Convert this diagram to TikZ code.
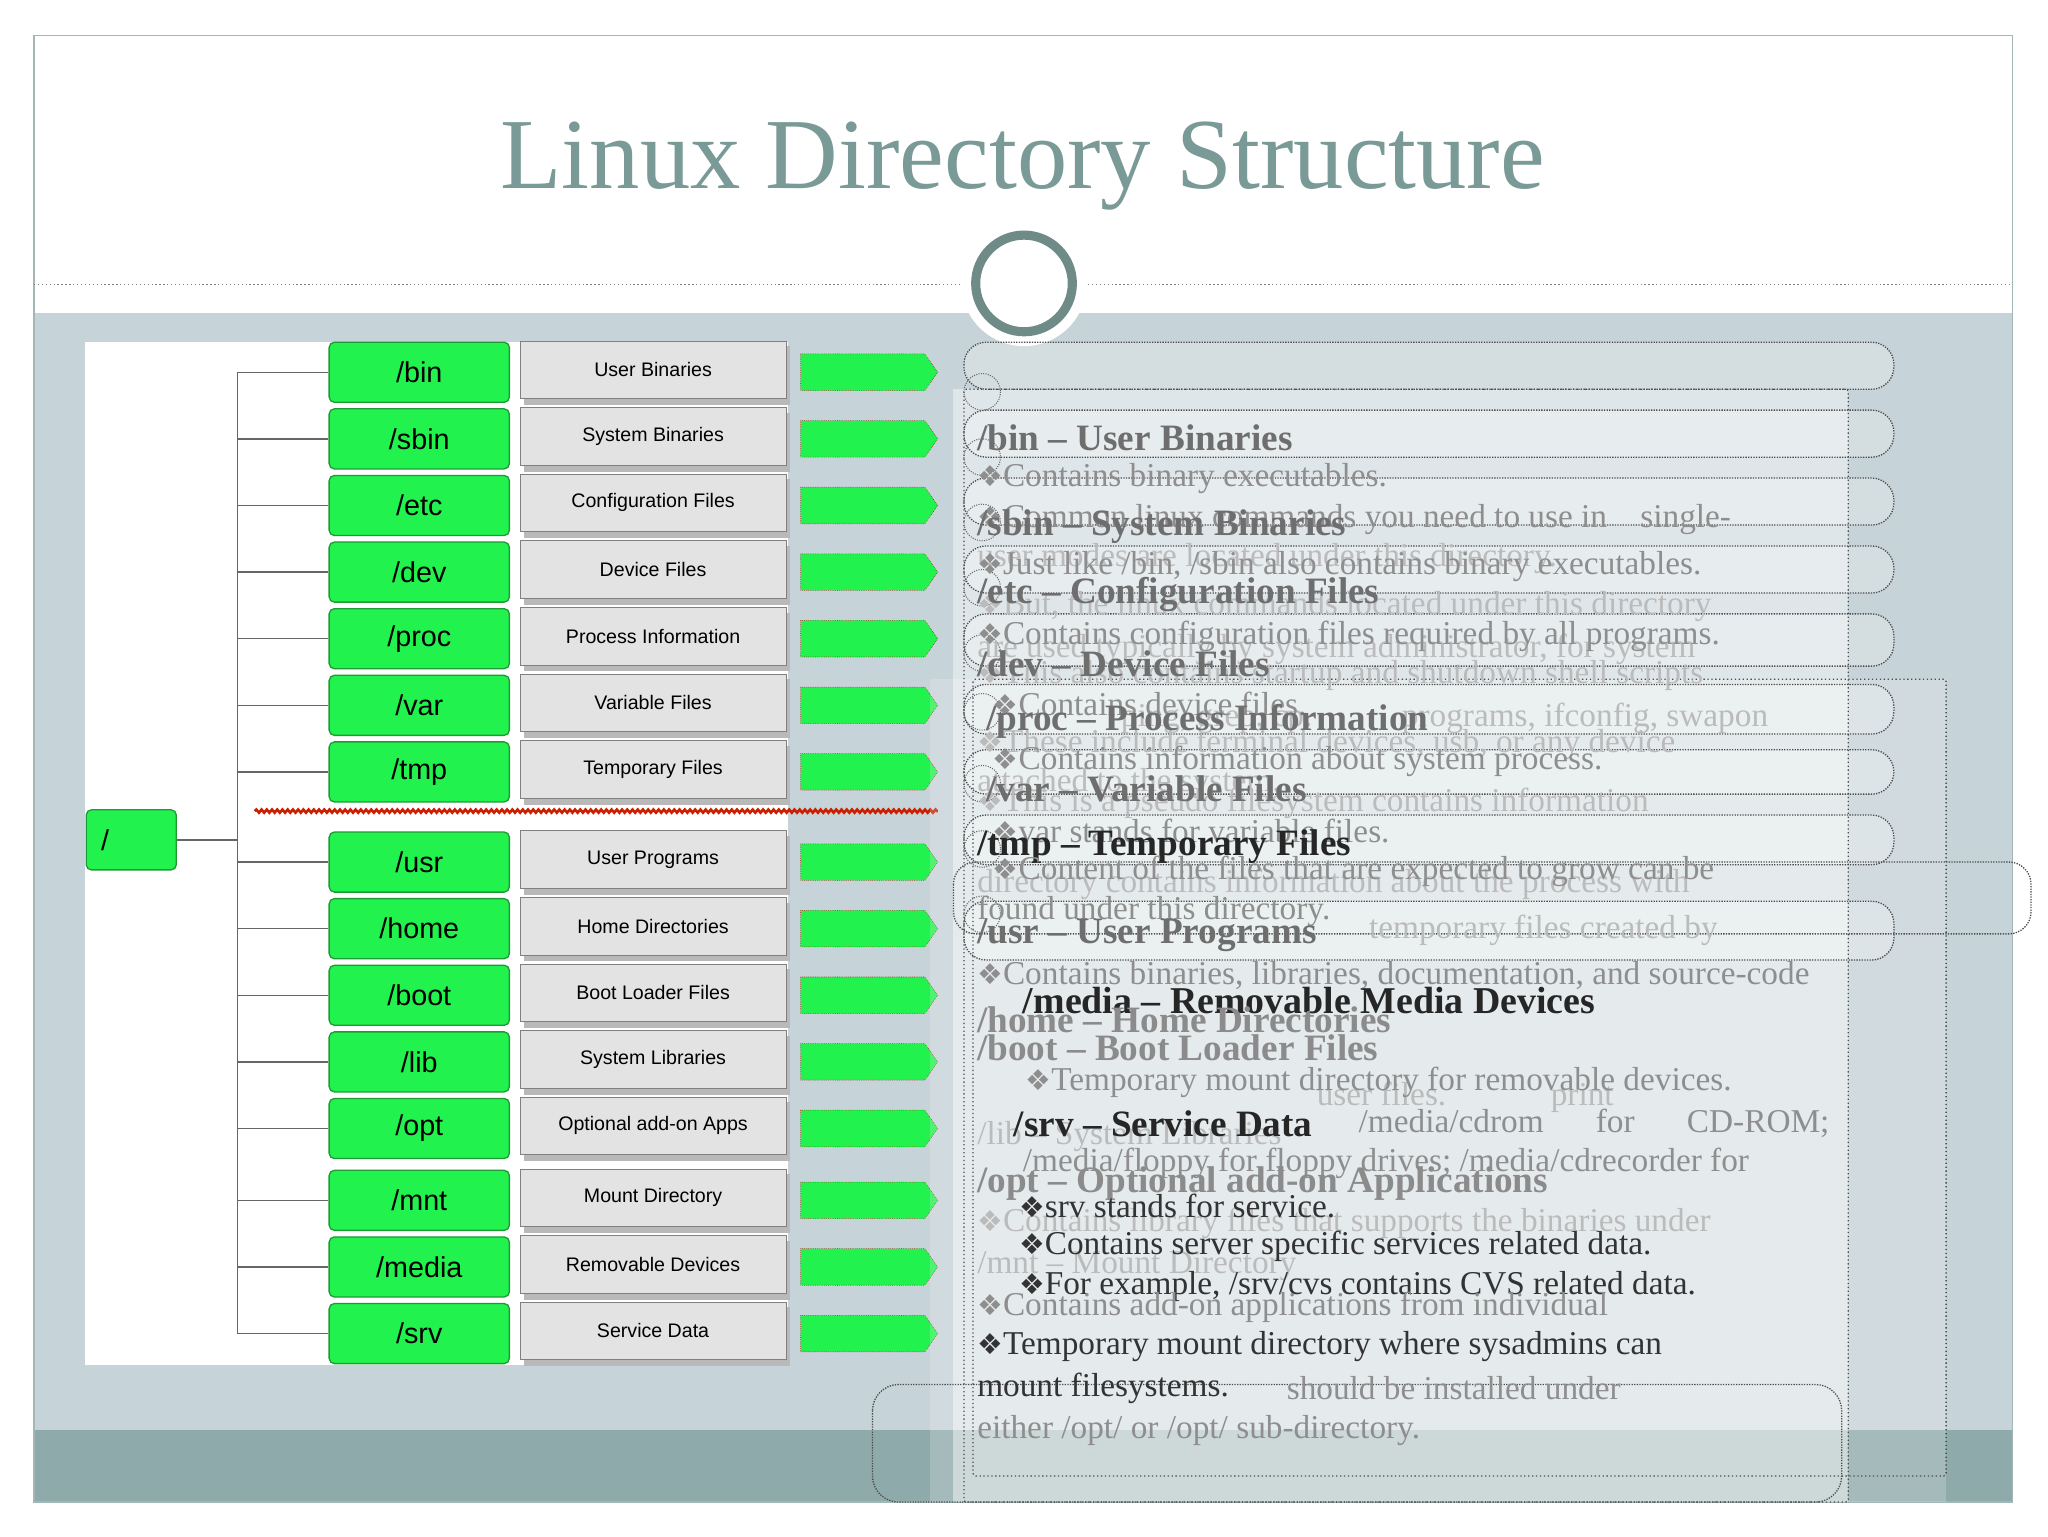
\documentclass[tikz,border=0pt]{standalone}
\usepackage{fontspec}
\setmainfont{Liberation Serif}
\setsansfont{Liberation Sans}
\newfontfamily\djv{DejaVu Sans}
\usetikzlibrary{decorations.pathmorphing}
\definecolor{titlec}{HTML}{7A9A97}
\definecolor{bandc}{HTML}{C6D3D8}
\definecolor{darkband}{HTML}{8FAAAB}
\definecolor{greenc}{HTML}{22F24E}
\definecolor{greend}{HTML}{1E9A35}
\definecolor{headc}{HTML}{6E6E6E}
\definecolor{bodyc}{HTML}{8E8E8E}
\newcommand{\fsz}[1]{\fontsize{#1}{#1}\selectfont}
\newcommand{\bul}{{\djv\fsz{22}❖}}
\tikzset{
 dirbox/.style={draw=greend,fill=greenc,rounded corners=4pt,minimum width=138pt,minimum height=46pt,font=\sffamily\fsz{22},line width=1pt},
 descbox/.style={draw=gray,fill=gray!22,minimum width=204pt,minimum height=44pt,font=\sffamily\fsz{15}},
 tree/.style={draw=gray!80!black,line width=1pt},
 head/.style={anchor=west,inner sep=0,text=headc,font=\bfseries\fsz{28.5}},
 hdark/.style={anchor=west,inner sep=0,text=black!85,font=\bfseries\fsz{28.5}},
 body/.style={anchor=west,inner sep=0,text=bodyc,font=\fsz{25.5}},
 faint/.style={anchor=west,inner sep=0,text=bodyc!60,font=\fsz{25.5}},
 bdark/.style={anchor=west,inner sep=0,text=black!80,font=\fsz{25.5}},
 scroll/.style={draw=black!70,densely dotted,line width=1pt,rounded corners=17pt}
}
\begin{document}
\begin{tikzpicture}[x=1pt,y=-1pt]
\useasboundingbox (0,0) rectangle (1568,1176);
\fill[white] (0,0) rectangle (1568,1176);
% bands
\fill[bandc] (26,240) rectangle (1541,1095);
\fill[darkband] (26,1095) rectangle (1541,1150);
\draw[titlec!70,line width=1pt] (26,27) rectangle (1541,1150);
\draw[gray,dotted,line width=1pt] (26,218) -- (1541,218);
\node (title) at (783,127) {\color{titlec}\fsz{77}Linux Directory Structure};
\fill[white] (784,217) circle (48);
\draw[titlec!90!black,line width=7pt,fill=white] (784,217) circle (37);
% left panel
\fill[white] (65,262) rectangle (603,1045);
\def\lst{1/285/bin/User Binaries,2/336/sbin/System Binaries,3/387/etc/Configuration Files,4/438/dev/Device Files,5/489/proc/Process Information,6/540/var/Variable Files,7/591/tmp/Temporary Files,8/660/usr/User Programs,9/711/home/Home Directories,10/762/boot/Boot Loader Files,11/813/lib/System Libraries,12/864/opt/Optional add-on Apps,13/919/mnt/Mount Directory,14/970/media/Removable Devices,15/1021/srv/Service Data}
\node[dirbox,minimum width=69pt,anchor=center] (root) at (100.5,643) {/\hspace*{40pt}};
\coordinate (jroot) at (182,643);
\coordinate (ttop) at (182,285);
\coordinate (tbot) at (182,1021);
\draw[tree] (ttop) -- (tbot);
\draw[tree] (root.east) -- (jroot);
\foreach \i/\y/\n/\d in \lst {
  \node[dirbox] (g\i) at (321,\y) {/\n};
  \coordinate (t\i) at (182,\y);
  \draw[tree] (t\i) -- (g\i.west);
  \fill[gray!55] (401,\y-20) rectangle (605,\y+25);
  \node[descbox] (d\i) at (500,\y-2) {\d};
  \fill[greenc] (613,\y-14) -- (708,\y-14) -- (718,\y) -- (708,\y+14) -- (613,\y+14) -- cycle;
  \draw[red!70!black,densely dotted] (613,\y-14) -- (708,\y-14) -- (718,\y) -- (708,\y+14) -- (613,\y+14) -- cycle;
}
\coordinate (wa) at (195,621);
\coordinate (wb) at (718,621);
\draw[red!70!orange!80!black,line width=2pt,decorate,decoration={snake,amplitude=1.2pt,segment length=4pt}] (wa) -- (wb);
% scrolls
\fill[white,opacity=0.45] (730,298) rectangle (1415,1150);
\fill[white,opacity=0.2] (712,520) rectangle (1490,1150);
\foreach \a/\b in {262/298,314/350,366/402,418/454,470/510,524/562,574/608,624/662,690/735}
  \draw[scroll,fill=white,fill opacity=0.25] (738,\a) rectangle (1450,\b);
\draw[scroll] (730,660) rectangle (1555,715);
\draw[scroll,rounded corners=2pt,dotted] (738,298) rectangle (1415,1150);
\draw[scroll,rounded corners=2pt,dotted] (745,520) rectangle (1490,1130);
\draw[scroll,rounded corners=20pt] (668,1060) rectangle (1410,1150);
\foreach \y in {300,350,400,450,500,545,600,650,700}
  \draw[black!60,densely dotted,line width=0.8pt] (752,\y) circle (14);
% texts
\node[faint] (f1) at (748,428) {user modes are located under this directory.};
\node[faint] (f2) at (748,464) {\bul But, the linux commands located under this directory};
\node[faint] (f3) at (748,497) {are used typically by system administrator, for system};
\node[faint] (f4) at (748,517) {\bul This also contains startup and shutdown shell scripts};
\node[faint] (f5) at (748,550) {\hspace*{110pt}ping, grep, cp.\hspace{60pt} programs, ifconfig, swapon};
\node[faint] (f6) at (748,570) {\bul These include terminal devices, usb, or any device};
\node[faint] (f7) at (748,600) {attached to the system.};
\node[faint] (f8) at (748,615) {\bul This is a pseudo filesystem contains information};
\node[faint] (f9) at (748,677) {directory contains information about the process with};
\node[faint] (f10) at (748,712) {\hspace*{300pt}temporary files created by};
\node[faint] (f11) at (748,840) {\hspace*{260pt}user files.\hspace{80pt}print};
\node[faint] (f12) at (748,870) {/lib – System Libraries};
\node[faint] (f13) at (748,937) {\bul Contains library files that supports the binaries under};
\node[faint] (f14) at (748,969) {/mnt – Mount Directory};
\node[head] (h1) at (748,335) {/bin – User Binaries};
\node[body] (b1) at (748,366) {\bul Contains binary executables.};
\node[body] (b2) at (748,398) {\bul Common linux commands you need to use in\quad single-};
\node[head] (h2) at (748,403) {/sbin – System Binaries};
\node[body] (b3) at (748,434) {\bul Just like /bin, /sbin also contains binary executables.};
\node[head] (h3) at (748,455) {/etc – Configuration Files};
\node[body] (b4) at (748,487) {\bul Contains configuration files required by all programs.};
\node[head] (h4) at (748,508) {/dev – Device Files};
\node[body] (b5) at (760,539) {\bul Contains device files.};
\node[head] (h5) at (755,552) {/proc – Process Information};
\node[body] (b6) at (760,583) {\bul Contains information about system process.};
\node[head] (h6) at (755,604) {/var – Variable Files};
\node[body] (b7) at (760,636) {\bul var stands for variable files.};
\node[hdark] (h7) at (748,648) {/tmp – Temporary Files};
\node[body] (b8) at (760,667) {\bul Content of the files that are expected to grow can be};
\node[body] (b9) at (748,698) {found under this directory.};
\node[head] (h8) at (748,716) {/usr – User Programs};
\node[body] (b10) at (748,747) {\bul Contains binaries, libraries, documentation, and source-code};
\node[hdark,font=\bfseries\fsz{29}] (h9) at (783,766) {/media – Removable Media Devices};
\node[head,text=headc!80] (h10) at (748,781) {/home – Home Directories};
\node[head,text=headc!80] (h11) at (748,802) {/boot – Boot Loader Files};
\node[body] (b11) at (785,829) {\bul Temporary mount directory for removable devices.};
\node[hdark] (h12) at (776,860) {/srv – Service Data};
\node[body] (b12) at (1040,860) {/media/cdrom\hspace{40pt}for\hspace{40pt}CD-ROM;};
\node[body] (b13) at (783,891) {/media/floppy for floppy drives; /media/cdrecorder for};
\node[head,text=headc!80] (h13) at (748,906) {/opt – Optional add-on Applications};
\node[bdark] (b14) at (780,923) {\bul srv stands for service.};
\node[bdark] (b15) at (780,954) {\bul Contains server specific services related data.};
\node[bdark] (b16) at (780,985) {\bul For example, /srv/cvs contains CVS related data.};
\node[body] (b17) at (748,1001) {\bul Contains add-on applications from individual};
\node[bdark] (b18) at (748,1031) {\bul Temporary mount directory where sysadmins can};
\node[bdark] (b19) at (748,1063) {mount filesystems.};
\node[body] (b20) at (905,1063) {\hspace*{80pt}should be installed under};
\node[body] (b21) at (748,1095) {either /opt/ or /opt/ sub-directory.};
\end{tikzpicture}
\end{document}
